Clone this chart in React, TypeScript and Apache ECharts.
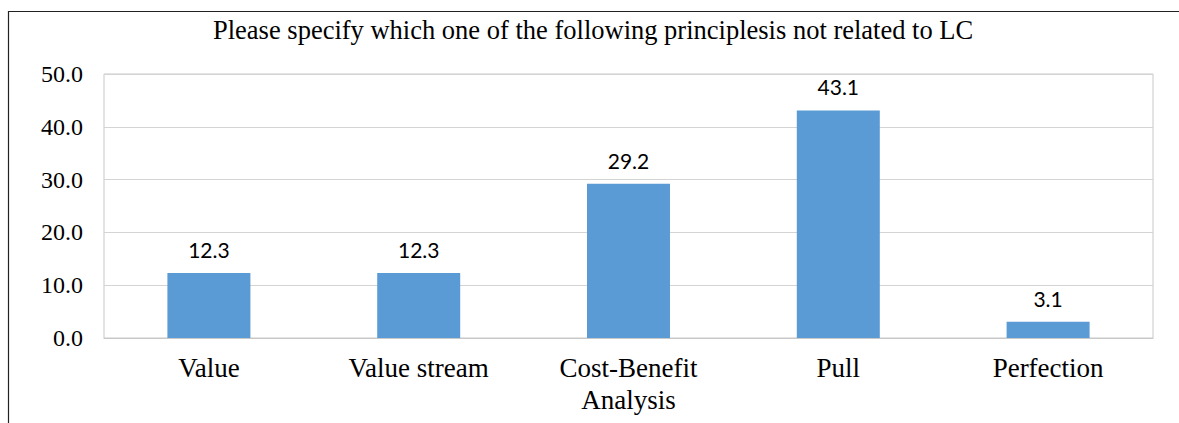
import React, { useEffect, useRef } from "react";
import * as echarts from "echarts";

const titleText = "Please specify which one of the following principlesis not related to LC";
const categories = ["Value", "Value stream", "Cost-Benefit\nAnalysis", "Pull", "Perfection"];
const values = [12.3, 12.3, 29.2, 43.1, 3.1];
const yTicks = { min: 0, max: 50, interval: 10 };

export default function App() {
  const ref = useRef<HTMLDivElement>(null);
  useEffect(() => {
    const chart = echarts.init(ref.current!, null, { renderer: "svg" });
    chart.setOption({
      animation: false,
      backgroundColor: "#ffffff",
      title: {
        text: titleText,
        left: 213,
        top: 16,
        padding: 0,
        textStyle: { fontFamily: "Liberation Serif", fontSize: 26.5, fontWeight: "normal", color: "#000" },
      },
      graphic: [
        {
          type: "rect",
          shape: { x: 8.5, y: 11.5, width: 1300, height: 600 },
          style: { fill: "none", stroke: "#222", lineWidth: 1.2 },
          silent: true,
        },
      ],
      grid: { left: 104, top: 74, right: 26, bottom: 85, show: true, borderColor: "#c8c8c8", borderWidth: 1 },
      xAxis: {
        type: "category",
        data: categories,
        axisLine: { lineStyle: { color: "#c8c8c8" } },
        axisTick: { show: false },
        axisLabel: { fontFamily: "Liberation Serif", fontSize: 27, color: "#000", margin: 14, lineHeight: 32, interval: 0 },
      },
      yAxis: {
        type: "value",
        min: yTicks.min,
        max: yTicks.max,
        interval: yTicks.interval,
        axisLine: { show: false },
        axisTick: { show: false },
        splitLine: { lineStyle: { color: "#d4d4d4" } },
        axisLabel: {
          fontFamily: "Liberation Serif",
          fontSize: 24,
          color: "#000",
          margin: 21,
          formatter: (v: number) => v.toFixed(1),
        },
      },
      series: [
        {
          type: "bar",
          data: values,
          barWidth: 83,
          itemStyle: { color: "#5b9bd5" },
          label: {
            show: true,
            position: "top",
            distance: 13,
            fontFamily: "Lato",
            fontSize: 21,
            color: "#000",
            formatter: (p: any) => p.value.toFixed(1),
          },
        },
      ],
    });
    return () => chart.dispose();
  }, []);
  return <div ref={ref} style={{ position: "fixed", left: 0, top: 0, width: 1179, height: 423 }} />;
}
